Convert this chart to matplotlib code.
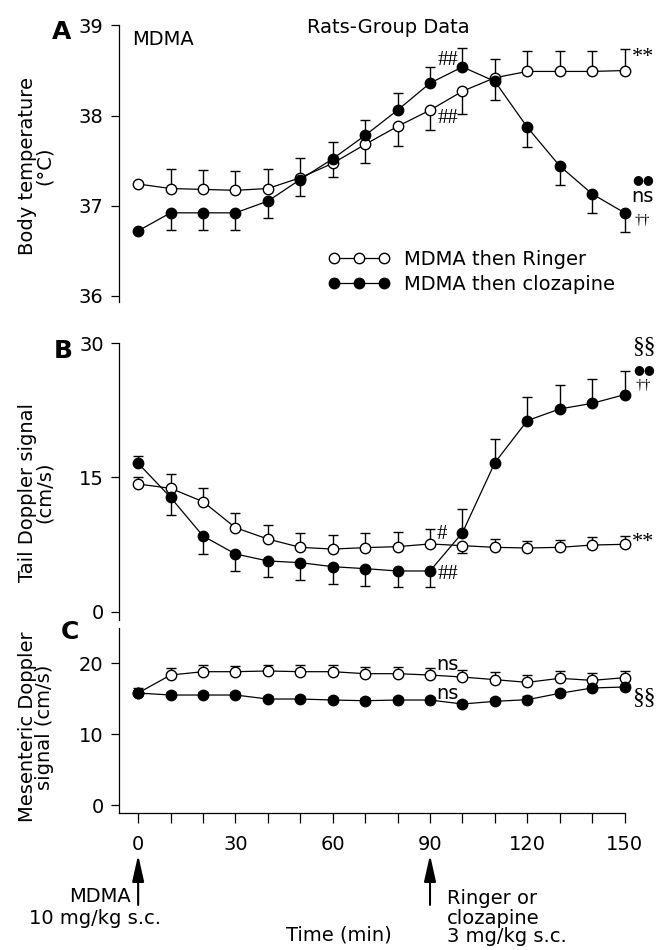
import matplotlib
matplotlib.use("Agg")
import matplotlib.pyplot as plt
import numpy as np

# time points (min)
time_min = [0, 10, 20, 30, 40, 50, 60, 70, 80, 90, 100, 110, 120, 130, 140, 150]

# A: body temperature (deg C)
temp_ringer = [37.24, 37.19, 37.18, 37.17, 37.19, 37.31, 37.47, 37.68, 37.88, 38.06, 38.27, 38.42, 38.49, 38.49, 38.49, 38.50]
temp_ringer_hi = [0, 0.22, 0.22, 0.21, 0.22, 0.22, 0, 0, 0, 0, 0, 0.21, 0.23, 0.23, 0.23, 0.235]
temp_ringer_lo = [0, 0, 0, 0, 0, 0, 0.15, 0.21, 0.22, 0.22, 0.25, 0, 0, 0, 0, 0]
temp_cloz = [36.72, 36.92, 36.92, 36.92, 37.05, 37.29, 37.52, 37.78, 38.06, 38.36, 38.54, 38.38, 37.87, 37.44, 37.13, 36.92]
temp_cloz_hi = [0, 0, 0, 0, 0, 0, 0.19, 0.17, 0.19, 0.18, 0.21, 0, 0, 0, 0, 0]
temp_cloz_lo = [0, 0.19, 0.19, 0.19, 0.19, 0.18, 0, 0, 0, 0, 0, 0.21, 0.22, 0.21, 0.21, 0.21]

# B: tail Doppler signal (cm/s)
tail_ringer = [14.27, 13.79, 12.3, 9.39, 8.12, 7.19, 7.0, 7.16, 7.27, 7.57, 7.38, 7.19, 7.12, 7.19, 7.45, 7.53]
tail_ringer_hi = [0.8, 1.57, 1.57, 1.6, 1.57, 1.57, 1.53, 1.6, 1.68, 1.64, 0, 0.97, 0.8, 0.8, 0.86, 0.97]
tail_ringer_lo = [0, 0, 0, 0, 0, 0, 0, 0, 0, 0, 0.86, 0, 0, 0, 0, 0]
tail_cloz = [16.59, 12.78, 8.46, 6.45, 5.67, 5.48, 5.03, 4.81, 4.55, 4.55, 8.83, 16.66, 21.36, 22.66, 23.29, 24.26]
tail_cloz_hi = [0.86, 0, 0, 0, 0, 0, 0, 0, 0, 0, 2.65, 2.65, 2.65, 2.65, 2.68, 2.65]
tail_cloz_lo = [0, 2.0, 2.0, 1.86, 1.83, 1.94, 1.94, 1.9, 1.83, 1.83, 0, 0, 0, 0, 0, 0]

# C: mesenteric Doppler signal (cm/s)
mes_ringer = [15.78, 18.31, 18.78, 18.78, 18.88, 18.78, 18.78, 18.5, 18.5, 18.31, 18.03, 17.66, 17.28, 17.85, 17.56, 17.94]
mes_ringer_hi = [0.7, 0.94, 0.94, 0.84, 0.84, 0.89, 0.94, 0.98, 0.98, 0.98, 1.03, 1.08, 0.98, 1.03, 0.98, 0.98]
mes_cloz = [15.78, 15.5, 15.5, 15.5, 14.94, 14.94, 14.8, 14.7, 14.8, 14.8, 14.24, 14.61, 14.85, 15.74, 16.49, 16.63]
mes_cloz_hi = [0, 0.45, 0.45, 0.45, 0.45, 0.45, 0.45, 0.45, 0.45, 0.45, 0.45, 0.45, 0.45, 0.45, 0.45, 0.45]
zeros = [0] * 16

W, H = 658, 950
SERIF = "Liberation Serif"


def fx(px):
    return px / W


def fy(py):
    return 1 - py / H


def draw_series(ax, y, lo, hi, filled, label=None):
    t = np.asarray(time_min, dtype=float)
    y = np.asarray(y, dtype=float)
    for err, sign in ((np.asarray(hi, float), 1), (np.asarray(lo, float), -1)):
        m = err > 0
        if m.any():
            ends = y[m] + sign * err[m]
            ax.vlines(t[m], y[m], ends, color="k", lw=1.0, zorder=2, clip_on=False)
            ax.plot(t[m], ends, "_", color="k", ms=7.5, mew=1.0, zorder=2, clip_on=False)
    line, = ax.plot(t, y, "-o", color="k", lw=0.9, ms=7.5, mfc="k" if filled else "w",
                    mec="k", mew=1.0, zorder=3, clip_on=False, label=label)
    return line


def style_axis(ax, yticks, show_x=False):
    ax.set_xlim(-5.9, 150)
    ax.set_yticks(yticks)
    for s in ("top", "right"):
        ax.spines[s].set_visible(False)
    ax.spines["left"].set_linewidth(0.9)
    ax.spines["bottom"].set_linewidth(0.9)
    ax.tick_params(axis="y", direction="out", length=6, width=0.9, labelsize=14, pad=5)
    if not show_x:
        ax.spines["bottom"].set_visible(False)
        ax.tick_params(axis="x", bottom=False, labelbottom=False)
    ax.patch.set_visible(False)


fig = plt.figure(figsize=(6.58, 9.5), dpi=100)

ax_a = fig.add_axes([fx(119), fy(302), fx(505.6), 276.5 / H])
ax_b = fig.add_axes([fx(119), fy(620), fx(505.6), 276.7 / H])
ax_c = fig.add_axes([fx(119), fy(813), fx(505.6), 185 / H])

# Panel A
h_r = draw_series(ax_a, temp_ringer, temp_ringer_lo, temp_ringer_hi, False, "MDMA then Ringer")
h_c = draw_series(ax_a, temp_cloz, temp_cloz_lo, temp_cloz_hi, True, "MDMA then clozapine")
ax_a.set_ylim(35.93, 39)
style_axis(ax_a, [36, 37, 38, 39])
ax_a.legend(handles=[h_r, h_c], loc="center left", bbox_to_anchor=(0.413, 0.1085),
            frameon=False, numpoints=3, handlelength=3.2, handletextpad=0.7,
            labelspacing=0.3, borderpad=0, borderaxespad=0, fontsize=14)
ax_a.text(-1.85, 38.85, "MDMA", fontsize=14, ha="left", va="center")
ax_a.text(77.2, 38.98, "Rats-Group Data", fontsize=14, ha="center", va="center")
ax_a.text(95.4, 38.61, "##", family=SERIF, fontsize=15, ha="center", va="center")
ax_a.text(95.4, 37.97, "##", family=SERIF, fontsize=15, ha="center", va="center")
ax_a.text(155.6, 38.65, "**", family=SERIF, fontsize=16, ha="center", va="center")
ax_a.text(155.6, 37.29, "●●", family="DejaVu Sans", fontsize=9, ha="center", va="center")
ax_a.text(155.6, 37.10, "ns", fontsize=14, ha="center", va="center")
ax_a.text(155.3, 36.83, "††", family=SERIF, fontsize=11, ha="center", va="center")

# Panel B
draw_series(ax_b, tail_ringer, tail_ringer_lo, tail_ringer_hi, False)
draw_series(ax_b, tail_cloz, tail_cloz_lo, tail_cloz_hi, True)
ax_b.set_ylim(-0.93, 30)
style_axis(ax_b, [0, 15, 30])
ax_b.text(156, 29.6, "§§", family=SERIF, fontsize=17, ha="center", va="center")
ax_b.text(156, 27.1, "●●", family="DejaVu Sans", fontsize=9, ha="center", va="center")
ax_b.text(155.8, 25.3, "††", family=SERIF, fontsize=11, ha="center", va="center")
ax_b.text(93.5, 8.6, "#", family=SERIF, fontsize=15, ha="center", va="center")
ax_b.text(95.4, 4.15, "##", family=SERIF, fontsize=15, ha="center", va="center")
ax_b.text(155.6, 7.7, "**", family=SERIF, fontsize=16, ha="center", va="center")

# Panel C
draw_series(ax_c, mes_ringer, zeros, mes_ringer_hi, False)
draw_series(ax_c, mes_cloz, zeros, mes_cloz_hi, True)
ax_c.set_ylim(-1.08, 24.92)
style_axis(ax_c, [0, 10, 20], show_x=True)
ax_c.set_xticks(time_min)
ax_c.set_xticklabels([str(v) if v % 30 == 0 else "" for v in time_min])
ax_c.tick_params(axis="x", direction="out", length=7, width=0.9, labelsize=14, pad=9)
ax_c.text(95.4, 19.85, "ns", fontsize=14, ha="center", va="center")
ax_c.text(95.4, 15.77, "ns", fontsize=14, ha="center", va="center")
ax_c.text(156, 15.2, "§§", family=SERIF, fontsize=17, ha="center", va="center")

# injection arrows
for xv in (0, 90):
    ax_c.annotate("", xy=(xv, -0.227), xytext=(xv, -0.497),
                  xycoords=ax_c.get_xaxis_transform(), textcoords=ax_c.get_xaxis_transform(),
                  arrowprops=dict(arrowstyle="-|>,head_length=1.6,head_width=0.36",
                                  mutation_scale=10, color="k", lw=1.5, shrinkA=0, shrinkB=0),
                  annotation_clip=False)

fig.text(fx(131), fy(897), "MDMA", fontsize=14, ha="right", va="center")
fig.text(fx(95), fy(919), "10 mg/kg s.c.", fontsize=14, ha="center", va="center")
fig.text(fx(447), fy(918), "Ringer or\nclozapine\n3 mg/kg s.c.", fontsize=14,
         ha="left", va="center", linespacing=1.0)
fig.text(fx(339), fy(935), "Time (min)", fontsize=14, ha="center", va="center")

# y labels
fig.text(fx(36), fy(166), "Body temperature\n(°C)", fontsize=14, rotation=90,
         ha="center", va="center", multialignment="center", linespacing=0.9)
fig.text(fx(36), fy(492), "Tail Doppler signal\n(cm/s)", fontsize=14, rotation=90,
         ha="center", va="center", multialignment="center", linespacing=0.9)
fig.text(fx(36), fy(727), "Mesenteric Doppler\nsignal (cm/s)", fontsize=14, rotation=90,
         ha="center", va="center", multialignment="center", linespacing=0.9)

# panel letters
fig.text(fx(62), fy(32), "A", fontsize=18, fontweight="bold", ha="center", va="center")
fig.text(fx(63), fy(351), "B", fontsize=18, fontweight="bold", ha="center", va="center")
fig.text(fx(70), fy(632), "C", fontsize=18, fontweight="bold", ha="center", va="center")

fig.savefig("out.png", dpi=100)
